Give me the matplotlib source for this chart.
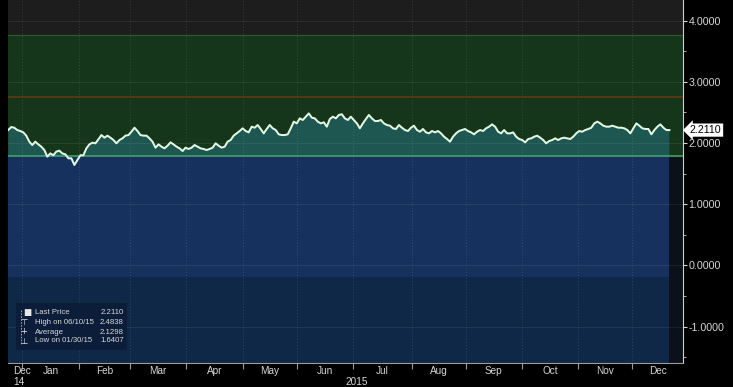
import matplotlib
matplotlib.use('Agg')
import numpy as np
import pandas as pd
import matplotlib.pyplot as plt
from matplotlib import font_manager, transforms
from matplotlib.patches import Rectangle

# ---------------- data ----------------
start_date = '2014-12-24'
end_date = '2015-12-21'

seg1 = [2.212, 2.261, 2.25, 2.212, 2.196, 2.174, 2.12, 2.022, 1.967, 2.022, 1.978, 1.94,
        1.886, 1.777, 1.83, 1.80, 1.86, 1.875, 1.83, 1.815, 1.75, 1.75, 1.641, 1.72, 1.80,
        1.80, 1.913, 1.978, 2.005, 1.995, 2.06, 2.13, 2.087, 2.12, 2.087, 2.049]
seg2 = [1.995, 2.049, 2.076, 2.12, 2.13, 2.185, 2.25, 2.196, 2.13, 2.12, 2.12, 2.076,
        2.022, 1.924, 1.978, 1.94, 1.913, 1.956, 2.011, 1.978, 1.94, 1.913, 1.869, 1.924,
        1.902, 1.924, 1.967, 1.94, 1.913, 1.902, 1.886, 1.902, 1.924, 1.995, 1.956, 1.924]
seg3 = [1.94, 2.022, 2.049, 2.12, 2.158, 2.196, 2.24, 2.196, 2.174, 2.267, 2.25, 2.294,
        2.229, 2.158, 2.229, 2.294, 2.24, 2.212, 2.142, 2.13, 2.13, 2.142, 2.24, 2.349,
        2.321, 2.403, 2.376, 2.43, 2.484, 2.414, 2.403, 2.349, 2.321, 2.338, 2.267, 2.392,
        2.43, 2.403]
seg4 = [2.458, 2.47, 2.403, 2.376, 2.43, 2.376, 2.321, 2.24, 2.321, 2.392, 2.458, 2.403,
        2.359, 2.359, 2.376, 2.321, 2.294, 2.283, 2.24, 2.229, 2.294, 2.25, 2.212, 2.196,
        2.25, 2.283, 2.212, 2.185, 2.229, 2.174, 2.158, 2.196, 2.174, 2.196, 2.158, 2.103,
        2.065, 2.022, 2.103]
seg5 = [2.158, 2.196, 2.212, 2.229, 2.196, 2.174, 2.142, 2.185, 2.212, 2.196, 2.24, 2.267,
        2.305, 2.267, 2.185, 2.158, 2.212, 2.158, 2.158, 2.174, 2.103, 2.065, 2.049, 2.011,
        2.065, 2.076, 2.103, 2.12, 2.087, 2.049, 1.995, 2.033, 2.049, 2.076, 2.049, 2.076,
        2.087, 2.076]
seg6 = [2.065, 2.103, 2.158, 2.196, 2.185, 2.212, 2.229, 2.25, 2.321, 2.349, 2.321, 2.283,
        2.267, 2.267, 2.283, 2.267, 2.25, 2.25, 2.24, 2.212, 2.158, 2.24, 2.321, 2.283,
        2.24, 2.229, 2.229, 2.142, 2.212, 2.267, 2.305, 2.25, 2.212, 2.211]
values = np.array(seg1 + seg2 + seg3 + seg4 + seg5 + seg6)

band_top = 3.76       # upper edge of green band
band_mid = 2.757      # orange line
band_low = 1.79       # green line
blue_split = -0.19    # darker blue below

month_names = ['Jan', 'Feb', 'Mar', 'Apr', 'May', 'Jun', 'Jul', 'Aug', 'Sep', 'Oct', 'Nov', 'Dec']
y_ticks = [-1, 0, 1, 2, 3, 4]

legend_labels = ['Last Price', 'High on 06/10/15', 'Average', 'Low on 01/30/15']
legend_values = ['2.2110', '2.4838', '2.1298', '1.6407']
last_price = 2.2110

# ---------------- fonts ----------------
names = {f.name for f in font_manager.fontManager.ttflist}
base_font = 'Liberation Sans' if 'Liberation Sans' in names else 'DejaVu Sans'
plt.rcParams['font.family'] = [base_font, 'DejaVu Sans']

# ---------------- figure ----------------
W, H = 733, 387
fig = plt.figure(figsize=(W / 100, H / 100), dpi=100, facecolor='black')
ax = fig.add_axes([8 / W, 24 / H, 675 / W, 363 / H])
ax.set_facecolor('#0b1019')

days = pd.bdate_range(start_date, end_date)
n = len(days)
x = np.linspace(0, n - 1, len(values))
xmin, xmax = -0.1, n - 1 + 5.3
ymin, ymax = -1.595, 4.337
ax.set_xlim(xmin, xmax)
ax.set_ylim(ymin, ymax)

# background bands
ax.axhspan(band_top, ymax, color='#1d1d1d', zorder=0)
ax.axhspan(band_low, band_top, color='#15361a', zorder=0.5)
ax.fill_between([xmin, x[-1]], blue_split, band_low, color='#17315e', lw=0, zorder=1)
ax.fill_between([xmin, x[-1]], ymin, blue_split, color='#102848', lw=0, zorder=1)

# area under price line
ax.fill_between(x, band_low, values, where=values >= band_low, interpolate=True,
                color='#1e5651', lw=0, zorder=2)

# grid
month_starts = [days.searchsorted(pd.Timestamp(2015, m, 1)) - 0.5 for m in range(1, 13)]
for ms in month_starts:
    ax.axvline(ms, color='white', alpha=0.13, lw=0.7, ls=(0, (1, 2)), zorder=3)
for yv in y_ticks:
    ax.axhline(yv, color='white', alpha=0.07, lw=0.8, zorder=3)

# band lines
ax.axhline(band_mid, color='#5a3a12', lw=1.3, zorder=3)
ax.axhline(band_low, color='#49aa68', lw=1.1, zorder=3)
ax.axhline(band_top, color='#2a5e2a', lw=0.8, zorder=3)

# price line
ax.plot(x, values, color='#e2f7e2', lw=1.45, zorder=5, solid_joinstyle='round')

# axes styling
for s in ['left', 'top']:
    ax.spines[s].set_visible(False)
ax.spines['right'].set_color('#cfcfcf')
ax.spines['bottom'].set_color('#9a9a9a')
ax.yaxis.tick_right()
ax.set_yticks(y_ticks)
ax.set_yticklabels([f'{v:.4f}' for v in y_ticks])
ax.set_yticks(np.arange(-1.5, 4.5, 1.0), minor=True)
ax.tick_params(axis='y', which='major', colors='#d6d6d6', labelsize=7.7, length=3, pad=1,
               direction='out')
ax.tick_params(axis='y', which='minor', colors='#cfcfcf', length=2, direction='out')
ax.set_xticks(month_starts)
ax.set_xticklabels([])
ax.tick_params(axis='x', colors='#9a9a9a', length=4, direction='out')

# month labels
trans = transforms.blended_transform_factory(ax.transData, fig.transFigure)
bounds = month_starts + [xmax]
for i, name in enumerate(month_names):
    cx = (bounds[i] + bounds[i + 1]) / 2
    ax.text(cx, 1 - 371 / H, name, transform=trans, ha='center', va='center',
            color='#d6d6d6', fontsize=7.2, clip_on=False)
fig.text(13 / W, 1 - 371 / H, 'Dec', ha='left', va='center', color='#d6d6d6', fontsize=7.2)
fig.text(13 / W, 1 - 382 / H, '14', ha='left', va='center', color='#d6d6d6', fontsize=7.2)
year_center = (days.searchsorted(pd.Timestamp(2015, 1, 1)) + n - 1 + 8) / 2
ax.text(year_center, 1 - 382 / H, '2015', transform=trans, ha='center', va='center',
        color='#d6d6d6', fontsize=7.2, clip_on=False)

# last price tag
ax.annotate(f'{last_price:.4f}', xy=(1, last_price), xycoords=('axes fraction', 'data'),
            xytext=(5, 0), textcoords='offset points', ha='left', va='center',
            color='black', fontsize=7.7,
            bbox=dict(boxstyle='larrow,pad=0.15', fc='white', ec='none'),
            annotation_clip=False)

# legend box
fig.patches.append(Rectangle((16 / W, 1 - 350 / H), 111 / W, 47 / H,
                             transform=fig.transFigure, fc='#0c1d3a', ec='none', zorder=6))
rows_y = [313, 322, 332, 341]
syms = ['■', '⊤', '+', '⊥']
for yy, lab, val, sym in zip(rows_y, legend_labels, legend_values, syms):
    yf = 1 - yy / H
    fig.text(35 / W, yf, lab, ha='left', va='center', color='#d8d8d8', fontsize=5.6,
             zorder=7)
    fig.text(124 / W, yf, val, ha='right', va='center', color='#d8d8d8', fontsize=5.6,
             zorder=7)
    sx = 27.5 if sym == '■' else 24
    fig.text(sx / W, yf, sym, ha='center', va='center', color='#e8e8e8',
             fontsize=6.2 if sym == '■' else 6, zorder=7, family=['DejaVu Sans'])
fig.lines.append(plt.Line2D([21 / W, 21 / W], [1 - 310 / H, 1 - 344 / H],
                            transform=fig.transFigure, color='#bbbbbb', lw=0.6,
                            ls=(0, (2, 1.5)), zorder=7))

fig.savefig('out.png', dpi=100, facecolor='black')
